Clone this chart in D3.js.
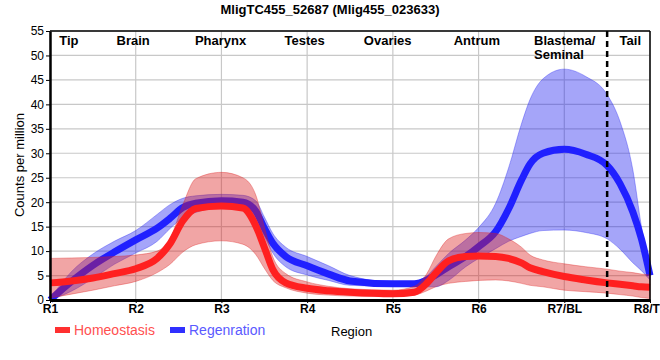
<!DOCTYPE html>
<html><head><meta charset="utf-8">
<script src="https://cdn.jsdelivr.net/npm/d3@7"></script>
<style>body{margin:0;background:#fff}svg{display:block;font-family:"Liberation Sans",Arial,sans-serif}</style>
</head><body><svg id="c" width="660" height="360"></svg>
<script>
const title = "MligTC455_52687 (Mlig455_023633)";
const tickLabels = ["R1","R2","R3","R4","R5","R6","R7/BL","R8/TL"];
const regionNames = ["Tip","Brain","Pharynx","Testes","Ovaries","Antrum","Blastema/|Seminal","Tail"];
const yTicks = [0,5,10,15,20,25,30,35,40,45,50,55];
const xs        = [0,0.25,0.5,0.75,1,1.25,1.4,1.55,1.7,2,2.25,2.4,2.5,2.6,2.75,3,3.25,3.5,4,4.25,4.4,4.5,4.65,4.85,5,5.2,5.35,5.5,5.6,5.75,6,6.25,6.5,6.65,6.8,6.9,7];
const homeoMean = [3.5,3.9,4.5,5.4,6.4,8.5,11.5,16.2,18.7,19.2,18.8,15.2,10.8,6.2,3.5,2.4,1.9,1.6,1.3,1.6,3.5,5.5,8.0,8.9,9.0,8.9,8.5,7.6,6.6,5.8,4.8,4.1,3.5,3.2,2.9,2.7,2.6];
const homeoHi   = [8.5,8.6,8.7,8.9,9.2,10.0,12.5,19.5,24.8,26.1,25,21.5,15,8.8,5.4,3.7,2.8,2.3,2.0,2.8,5.5,8.9,12.5,13.6,13.8,13.6,12.5,10.8,9.2,8.2,7.4,6.8,6.3,5.9,5.6,5.3,5.1];
const homeoLo   = [0.4,1.2,2.0,2.9,3.8,5.6,7.3,9.8,11.3,12.1,11.4,9.3,6.5,4.0,2.5,1.4,1.0,0.8,0.7,1.0,1.9,2.7,3.4,3.8,4.0,4.1,3.9,3.4,3.0,2.7,2.0,1.7,1.4,1.1,0.8,0.5,0.3];
const regenMean = [0,3.8,7.1,9.8,12.3,14.7,16.7,18.9,19.8,20.3,20.0,18.2,14.7,11.6,8.9,7.0,5.3,3.9,3.3,3.3,4.1,5.1,6.8,8.9,10.9,14.0,18.6,24.5,27.8,30.0,30.8,29.8,27.5,23.8,18.0,12.5,5.0];
const regenHi   = [0.3,5.8,9.4,12.0,14.2,17.5,19.5,20.8,21.3,21.6,21.4,20.3,17,13.6,10.8,8.9,7.0,5.0,3.7,3.8,5.0,6.8,9.5,12.3,14.8,19.8,27,36,41,45.2,47.2,45.7,42.0,36.5,26.6,15.0,5.5];
const regenLo   = [0,1.8,4.4,7.3,9.6,12.0,14.6,16.8,17.9,18.9,18.6,16,13,9.6,6.8,5.1,4.0,3.0,2.8,2.8,2.7,2.7,4.0,6.8,8.5,10.5,12.0,13.0,13.6,14.2,14.3,13.8,12.5,10.4,7.6,6.0,4.1];
const seriesNames = ["Homeostasis","Regenration"];
const dividerAt = 6.5;

// layout
const regionLabelX = [0.22,0.97,1.99,2.97,3.94,4.98,5.85,6.77];
const svg = d3.select("#c");
const x = d3.scaleLinear().domain([0,7]).range([50,650]);
const y = d3.scaleLinear().domain([0,55]).range([300,31]);

// grid
const g = svg.append("g");
g.selectAll(".hg").data(yTicks).join("line")
  .attr("x1",50).attr("x2",650).attr("y1",d=>y(d)).attr("y2",d=>y(d))
  .attr("stroke","#c8c8c8").attr("stroke-width",1.2);
g.selectAll(".vg").data(d3.range(tickLabels.length)).join("line")
  .attr("x1",d=>x(d)).attr("x2",d=>x(d)).attr("y1",31).attr("y2",300)
  .attr("stroke","#c8c8c8").attr("stroke-width",1.2);

const pts = (arr)=>xs.map((v,i)=>[v,arr[i]]);
const band = (lo,hi)=>d3.area().curve(d3.curveMonotoneX)
  .x((d,i)=>x(xs[i])).y0((d,i)=>y(lo[i])).y1((d,i)=>y(hi[i]))(xs);
const line = d3.line().curve(d3.curveMonotoneX).x(d=>x(d[0])).y(d=>y(d[1]));

svg.append("path").attr("d",band(regenLo,regenHi))
  .attr("fill","rgba(30,30,240,0.4)").attr("stroke","rgba(30,30,240,0.35)").attr("stroke-width",1);
svg.append("path").attr("d",line(pts(regenMean)))
  .attr("fill","none").attr("stroke","#2020ff").attr("stroke-width",7);
svg.append("path").attr("d",band(homeoLo,homeoHi))
  .attr("fill","rgba(220,30,30,0.4)").attr("stroke","rgba(220,30,30,0.35)").attr("stroke-width",1);
svg.append("path").attr("d",line(pts(homeoMean)))
  .attr("fill","none").attr("stroke","#ff2020").attr("stroke-width",7);

// divider
svg.append("line").attr("x1",x(dividerAt)).attr("x2",x(dividerAt)).attr("y1",31).attr("y2",300)
  .attr("stroke","#000").attr("stroke-width",2.5).attr("stroke-dasharray","6,4");

// frame
svg.append("line").attr("x1",50).attr("x2",650).attr("y1",31).attr("y2",31).attr("stroke","#000").attr("stroke-width",1.5);
svg.append("line").attr("x1",650).attr("x2",650).attr("y1",31).attr("y2",300).attr("stroke","#000").attr("stroke-width",1.5);

// axes
const yAxis = svg.append("g").attr("transform","translate(50,0)")
  .call(d3.axisLeft(y).tickValues(yTicks).tickSize(4).tickSizeOuter(0));
yAxis.select(".domain").attr("stroke-width",2.5);
yAxis.selectAll("text").attr("font-size",12).attr("font-family","Liberation Sans, Arial").attr("fill","#000").attr("dx","1");
const xAxis = svg.append("g").attr("transform","translate(0,300)")
  .call(d3.axisBottom(x).tickValues(d3.range(tickLabels.length)).tickFormat(i=>tickLabels[i]).tickSize(3).tickSizeOuter(0));
xAxis.select(".domain").attr("stroke-width",3);
xAxis.selectAll("text").attr("font-size",12).attr("font-weight","bold").attr("font-family","Liberation Sans, Arial").attr("fill","#000").attr("dy","0.6em");

// region labels
regionNames.forEach((n,i)=>{
  const parts = n.split("|");
  const t = svg.append("text").attr("x",x(regionLabelX[i])).attr("y",45)
    .attr("text-anchor", parts.length>1 ? "start" : "middle")
    .attr("font-size",13).attr("font-weight","bold").attr("fill","#000");
  if(parts.length>1){
    t.attr("x",534);
    parts.forEach((p,j)=>t.append("tspan").attr("x",534).attr("dy",j?14:0).text(p));
  } else t.text(n);
});

// title
svg.append("text").attr("x",330).attr("y",13.5).attr("text-anchor","middle")
  .attr("font-size",13).attr("font-weight","bold").text(title);
// y label
svg.append("text").attr("transform","translate(24,165) rotate(-90)").attr("text-anchor","middle")
  .attr("font-size",13).text("Counts per million");
// x label
svg.append("text").attr("x",331).attr("y",336).attr("font-size",13).text("Region");

// legend
const legCols = [["#ff3030","#ff5050"],["#3030ff","#5a5aff"]];
const legX = [55,170];
seriesNames.forEach((n,i)=>{
  svg.append("rect").attr("x",legX[i]).attr("y",327).attr("width",15).attr("height",6).attr("fill",legCols[i][0]);
  svg.append("text").attr("x",legX[i]+19).attr("y",335).attr("font-size",14).attr("fill",legCols[i][1]).text(n);
});
</script></body></html>
